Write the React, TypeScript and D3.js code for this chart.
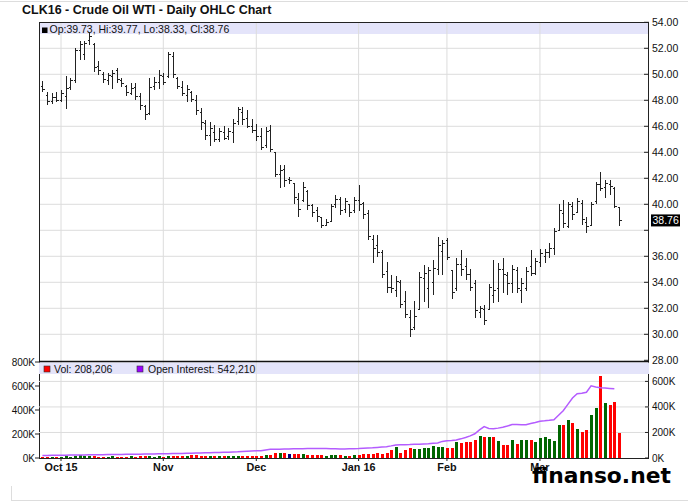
import * as d3 from "d3";

// ---- data ----
const chartTitle = "CLK16 - Crude Oil WTI - Daily OHLC Chart";
const monthLabels = ["Oct 15", "Nov", "Dec", "Jan 16", "Feb", "Mar"];
const monthStartIdx = [4, 26, 46, 68, 87, 107];

const priceTicks = [28, 30, 32, 34, 36, 38, 40, 42, 44, 46, 48, 50, 52, 54];
const volTicks = [0, 200, 400, 600, 800];
const oiTicks = [0, 200, 400, 600];

const opens = [
  49.1, 48.4, 47.9, 48.2, 48.0, 48.3, 49.0, 49.5, 51.8, 51.5,
  52.6, 52.3, 50.6, 50.0, 49.5, 49.8, 50.3, 49.5, 49.1, 48.5,
  49.0, 48.3, 47.5, 47.0, 49.1, 49.4, 49.8, 49.8, 51.4, 49.7,
  49.0, 48.4, 48.6, 48.0, 47.1, 46.2, 45.3, 45.5, 45.0, 45.5,
  45.2, 45.5, 46.4, 47.1, 46.6, 46.0, 45.7, 45.2, 44.5, 45.7,
  44.0, 42.3, 42.7, 41.9, 41.6, 40.4, 40.3, 41.0, 39.9, 39.5,
  39.0, 38.4, 38.7, 40.0, 40.4, 39.6, 40.0, 39.5, 40.3, 40.1,
  39.3, 37.3, 36.8, 36.3, 34.8, 33.6, 33.4, 34.0, 32.5, 31.3,
  30.5, 31.9, 34.3, 33.5, 34.0, 35.0, 36.4, 37.2, 34.9, 33.5,
  35.4, 35.2, 34.6, 33.9, 31.7, 31.9, 31.9, 33.0, 33.5, 35.0,
  34.5, 33.9, 34.9, 33.4, 33.5, 35.2, 34.7, 35.5, 36.0, 36.3,
  36.6, 38.0, 39.3, 38.3, 39.8, 39.4, 40.1, 38.6, 38.4, 40.2,
  41.5, 41.3, 41.5, 41.2, 39.73,
];
const highs = [
  49.45, 48.65, 48.55, 48.65, 48.8, 49.9, 49.7, 52.0, 52.6, 52.6,
  53.15, 52.4, 51.0, 50.2, 50.1, 50.35, 50.45, 49.7, 49.2, 49.3,
  49.3, 48.55, 47.65, 49.7, 49.8, 50.35, 50.1, 51.75, 51.75, 49.8,
  49.45, 49.2, 48.7, 48.4, 47.4, 46.5, 46.3, 46.1, 45.85, 46.0,
  45.85, 46.6, 47.5, 47.5, 47.25, 46.6, 46.2, 45.85, 45.95, 46.1,
  44.05, 43.0, 43.0, 42.1, 41.6, 40.85, 41.75, 41.1, 40.05, 39.8,
  39.05, 38.9, 40.05, 40.7, 40.6, 40.45, 40.05, 40.6, 41.5, 40.2,
  39.55, 37.65, 37.65, 36.5, 35.6, 34.55, 34.45, 34.2, 33.3, 31.85,
  32.6, 34.8, 35.35, 35.2, 35.7, 37.5, 37.25, 37.4, 34.95, 35.85,
  36.5, 35.85, 35.05, 34.2, 32.15, 32.25, 33.9, 35.7, 35.45, 35.85,
  34.8, 35.35, 35.2, 34.3, 35.2, 36.5, 35.85, 36.6, 36.6, 37.0,
  38.15, 40.05, 40.3, 40.2, 40.2, 40.45, 40.3, 39.05, 40.2, 41.75,
  42.5, 41.9, 41.9, 41.35, 39.77,
];
const lows = [
  48.65, 47.65, 47.7, 47.9, 47.9, 47.3, 48.8, 49.3, 51.1, 51.1,
  52.25, 50.2, 49.95, 49.3, 49.2, 48.9, 49.3, 49.05, 48.3, 48.4,
  48.0, 47.25, 46.5, 46.85, 48.8, 48.9, 49.2, 49.7, 49.7, 48.9,
  48.3, 47.9, 47.9, 46.9, 45.7, 44.95, 44.45, 44.8, 44.8, 44.95,
  44.95, 44.7, 46.1, 46.1, 45.85, 45.5, 44.9, 44.2, 44.3, 44.05,
  42.1, 41.25, 41.35, 41.6, 40.05, 39.05, 40.2, 39.55, 39.05, 38.65,
  38.15, 38.3, 38.65, 39.7, 39.2, 39.3, 39.05, 39.3, 39.45, 38.9,
  37.25, 35.45, 35.95, 34.3, 33.15, 33.15, 32.9, 32.0, 31.25, 29.8,
  30.35, 31.85, 32.5, 32.0, 33.0, 34.55, 34.55, 35.7, 32.75, 33.3,
  34.45, 34.2, 33.3, 31.25, 31.25, 30.7, 31.85, 32.4, 32.5, 33.15,
  33.0, 33.15, 33.15, 32.4, 33.3, 34.45, 34.55, 35.2, 35.45, 35.85,
  36.1, 38.0, 38.15, 38.15, 38.8, 39.4, 38.4, 37.8, 38.4, 40.05,
  41.0, 40.45, 40.7, 39.7, 38.33,
];
const closes = [
  48.8, 47.9, 48.2, 48.0, 48.5, 48.9, 49.5, 51.8, 52.3, 52.4,
  52.9, 50.5, 50.3, 49.6, 49.9, 50.1, 49.6, 49.3, 48.6, 48.9,
  48.3, 47.6, 46.9, 49.0, 49.4, 49.9, 49.4, 51.5, 50.0, 49.1,
  48.5, 48.8, 48.1, 47.2, 46.3, 45.3, 45.8, 45.0, 45.6, 45.1,
  45.6, 46.2, 47.3, 46.5, 46.0, 45.7, 45.2, 44.4, 45.6, 44.2,
  42.3, 42.6, 41.8, 41.8, 40.5, 39.6, 41.3, 39.9, 39.4, 39.1,
  38.4, 38.6, 39.8, 40.4, 39.5, 40.2, 39.4, 40.3, 40.0, 39.2,
  37.5, 36.6, 36.3, 34.6, 33.6, 33.5, 34.1, 32.3, 31.5, 30.4,
  31.4, 34.4, 34.7, 34.9, 35.1, 36.8, 37.0, 35.9, 33.2, 35.4,
  35.0, 34.6, 33.6, 31.8, 32.0, 31.1, 33.6, 33.4, 35.0, 34.6,
  33.9, 35.0, 33.5, 33.9, 34.8, 34.7, 35.6, 36.2, 36.3, 36.6,
  37.9, 39.5, 38.5, 40.0, 39.2, 40.2, 38.8, 38.3, 40.0, 41.5,
  41.2, 41.6, 41.4, 39.8, 38.76,
];
// volume in thousands of contracts
const volumes = [
  12, 10, 11, 10, 12, 13, 11, 18, 24, 20,
  18, 14, 12, 11, 12, 13, 12, 11, 12, 13,
  12, 14, 13, 15, 12, 13, 12, 16, 14, 13,
  15, 20, 21, 24, 18, 17, 19, 18, 16, 15,
  17, 19, 20, 18, 17, 16, 20, 18, 22, 24,
  40, 38, 39, 36, 35, 33, 30, 28, 26, 24,
  22, 20, 25, 23, 21, 18, 20, 25, 25, 36,
  36, 36, 44, 36, 45, 64, 89, 45, 69, 80,
  72, 72, 80, 84, 97, 95, 89, 80, 80, 130,
  122, 130, 130, 153, 186, 178, 172, 178, 145, 105,
  105, 150, 113, 150, 150, 148, 130, 165, 172, 162,
  145, 275, 275, 318, 295, 243, 220, 232, 360, 418,
  680, 458, 443, 470, 208.206,
];
// open interest in thousands (reported one day behind)
const openInterest = [
  20, 20, 21, 21, 22, 22, 23, 23, 24, 24,
  25, 25, 26, 26, 27, 27, 28, 28, 29, 29,
  30, 30, 31, 31, 32, 33, 34, 34, 35, 36,
  36, 37, 38, 39, 40, 41, 42, 43, 44, 45,
  46, 47, 48, 50, 52, 54, 56, 57, 63, 68,
  69, 69, 70, 71, 72, 72, 73, 74, 74, 75,
  75, 74, 73, 72, 71, 71, 72, 73, 74, 76,
  78, 80, 83, 86, 89, 95, 102, 103, 104, 105,
  107, 108, 110, 112, 115, 118, 130, 136, 138, 141,
  150, 160, 173, 190, 220, 246, 232, 230, 234, 241,
  250, 262, 262, 260, 260, 270, 278, 288, 291, 295,
  300, 335, 370, 420, 470, 503, 508, 515, 565, 556,
  550, 548, 545, 542.21,
];

const W = 688;
const H = 502;
const plotL = 39;
const plotR = 649;
const font = "'Liberation Sans', Arial, sans-serif";
const gridColor = "#dcdcdc";
const bandColor = "#e4e4fa";

const App = () => {
  const n = closes.length;
  const x = d3.scaleLinear().domain([0, n - 1]).range([42.4, 619]);
  const y = d3.scaleLinear().domain([28, 54]).range([360.3, 22.3]);
  const yVol = d3.scaleLinear().domain([0, 800]).range([458, 362]);
  const yOI = d3.scaleLinear().domain([0, 752]).range([458, 362]);

  const oiPath = d3
    .line<number>()
    .x((_d, i) => x(i))
    .y((d) => yOI(d))(openInterest);

  const volColor = (i: number) => {
    if (i === 0) return "#ff0000";
    if (closes[i] > closes[i - 1]) return "#006600";
    if (closes[i] < closes[i - 1]) return "#ff0000";
    return "#000080";
  };

  const last = n - 1;
  const fmt = d3.format(".2f");
  const fmtComma = d3.format(",");

  return (
    <svg
      width={W}
      height={H}
      style={{ position: "absolute", left: 0, top: 0, display: "block", background: "#fff" }}
      fontFamily={font}
    >
      {/* page frame */}
      <line x1={0} x2={W} y1={1.5} y2={1.5} stroke="#dddddd" />
      <line x1={11.5} x2={11.5} y1={486} y2={501} stroke="#dddddd" />
      <line x1={11} x2={W} y1={500.5} y2={500.5} stroke="#dddddd" />

      <text x={22} y={14} fontSize={12.5} fontWeight="bold" fill="#111">
        {chartTitle}
      </text>

      {/* ---------- price panel ---------- */}
      <rect x={plotL} y={22.5} width={plotR - plotL} height={11.5} fill={bandColor} />
      {priceTicks
        .filter((t) => t > 28 && t < 54)
        .map((t) => (
          <line key={"pg" + t} x1={plotL} x2={plotR} y1={y(t)} y2={y(t)} stroke={gridColor} />
        ))}
      {monthStartIdx.map((m) => (
        <line key={"vg" + m} x1={x(m)} x2={x(m)} y1={22.5} y2={361} stroke={gridColor} />
      ))}

      {/* OHLC bars */}
      <g stroke="#222" strokeWidth={1} shapeRendering="crispEdges">
        {closes.map((c, i) => {
          const cx = Math.round(x(i)) + 0.5;
          return (
            <g key={"b" + i}>
              <line x1={cx} x2={cx} y1={y(highs[i])} y2={y(lows[i])} />
              <line x1={cx - 2} x2={cx} y1={y(opens[i])} y2={y(opens[i])} />
              <line x1={cx} x2={cx + 2} y1={y(c)} y2={y(c)} />
            </g>
          );
        })}
      </g>

      {/* legend of price panel */}
      <rect x={42} y={27.5} width={5.5} height={5.5} fill="#000" />
      <text x={49.5} y={33.3} fontSize={10.5} fill="#111">
        {`Op:${fmt(opens[last])}, Hi:${fmt(highs[last])}, Lo:${fmt(lows[last])}, Cl:${fmt(closes[last])}`}
      </text>

      {/* frame + right axis */}
      <line x1={plotL} x2={plotR} y1={22.5} y2={22.5} stroke="#222" />
      <line x1={plotL + 0.5} x2={plotL + 0.5} y1={22} y2={458} stroke="#222" />
      <line x1={plotR - 0.5} x2={plotR - 0.5} y1={22} y2={458} stroke="#222" />
      {priceTicks.map((t) => (
        <g key={"pt" + t}>
          <line x1={plotR - 5} x2={plotR} y1={y(t)} y2={y(t)} stroke="#222" />
          {t !== 38 && (
            <text x={652} y={y(t)} dy="0.35em" fontSize={10.5} fill="#111">
              {fmt(t)}
            </text>
          )}
        </g>
      ))}
      <rect x={651} y={y(closes[last]) - 6} width={29} height={12} fill="#000" />
      <text x={652.5} y={y(closes[last])} dy="0.35em" fontSize={10.5} fill="#fff">
        {fmt(closes[last])}
      </text>

      {/* ---------- volume panel ---------- */}
      <rect x={plotL} y={362.5} width={plotR - plotL} height={11.5} fill={bandColor} />
      {oiTicks
        .filter((t) => t > 0)
        .map((t) => (
          <line key={"og" + t} x1={plotL} x2={plotR} y1={yOI(t)} y2={yOI(t)} stroke={gridColor} />
        ))}
      {monthStartIdx.map((m) => (
        <line key={"vvg" + m} x1={x(m)} x2={x(m)} y1={362} y2={458} stroke={gridColor} />
      ))}

      <g shapeRendering="crispEdges">
        {volumes.map((v, i) => (
          <rect
            key={"v" + i}
            x={Math.round(x(i)) - 1}
            y={yVol(v)}
            width={3}
            height={yVol(0) - yVol(v)}
            fill={volColor(i)}
          />
        ))}
      </g>
      <path d={oiPath ?? ""} fill="none" stroke="#b45cff" strokeWidth={1.5} />

      <rect x={44} y={366} width={6} height={6} fill="#ff0000" stroke="#333" strokeWidth={0.6} />
      <text x={54} y={372.5} fontSize={10.5} fill="#111">
        {`Vol: ${fmtComma(Math.round(volumes[last] * 1000))}`}
      </text>
      <rect x={137} y={366} width={6} height={6} fill="#9a00ff" stroke="#333" strokeWidth={0.6} />
      <text x={148} y={372.5} fontSize={10.5} fill="#111">
        {`Open Interest: ${fmtComma(Math.round(openInterest[openInterest.length - 1] * 1000))}`}
      </text>

      {/* separator and bottom axis */}
      <line x1={plotL} x2={plotR} y1={361.5} y2={361.5} stroke="#111" strokeWidth={1.6} />
      <line x1={plotL} x2={plotR} y1={458.5} y2={458.5} stroke="#222" />

      {volTicks.map((t) => (
        <g key={"lt" + t}>
          <line x1={35} x2={plotL} y1={yVol(t)} y2={yVol(t)} stroke="#222" />
          <text x={35} y={yVol(t)} dy="0.35em" fontSize={10} textAnchor="end" fill="#111">
            {`${t}K`}
          </text>
        </g>
      ))}
      {oiTicks.map((t) => (
        <g key={"rt" + t}>
          <line x1={plotR - 4} x2={plotR} y1={yOI(t)} y2={yOI(t)} stroke="#222" />
          <text x={652} y={yOI(t)} dy="0.35em" fontSize={10} fill="#111">
            {`${t}K`}
          </text>
        </g>
      ))}

      {monthStartIdx.map((m, k) => (
        <g key={"mx" + m}>
          <line x1={x(m)} x2={x(m)} y1={458} y2={461} stroke="#222" />
          <text x={x(m)} y={470.5} fontSize={10.8} fontWeight="bold" textAnchor="middle" fill="#111">
            {monthLabels[k]}
          </text>
        </g>
      ))}

      {/* watermark */}
      <text
        x={532}
        y={483}
        fontFamily="'DejaVu Sans', sans-serif"
        fontWeight="bold"
        fontSize={21.8}
        fill="#000"
      >
        finanso.net
      </text>
    </svg>
  );
};

export default App;
